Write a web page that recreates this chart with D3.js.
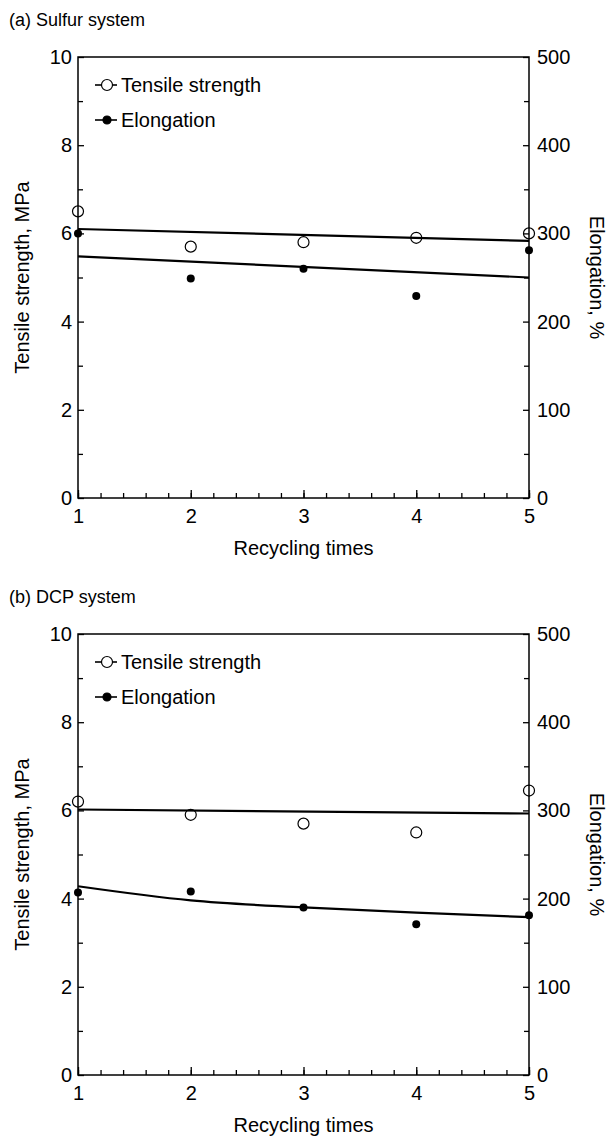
<!DOCTYPE html>
<html>
<head>
<meta charset="utf-8">
<title>Recycling times</title>
<style>
body { margin: 0; background: #fff; }
svg text { font-family: "Liberation Sans", Arial, sans-serif; fill: #000; }
</style>
</head>
<body>
<svg width="608" height="1137"></svg>
<script src="https://cdn.jsdelivr.net/npm/d3@7"></script>
<script>
// values
var cycles = [1, 2, 3, 4, 5];
var fitEnds = [1, 5];

var sulfurTensile = [6.5, 5.7, 5.8, 5.9, 6.0];
var sulfurElong = [300, 249, 260, 229, 281];
var sulfurTensileFit = [6.1, 5.83];
var sulfurElongFit = [274, 250];

var dcpTensile = [6.2, 5.9, 5.7, 5.5, 6.45];
var dcpElong = [207, 208, 190, 171, 181];
var dcpTensileFit = [6.02, 5.93];
var dcpElongFit = [214, 198, 190, 184, 179];

var leftTicks = [0, 2, 4, 6, 8, 10];
var rightTicks = [0, 100, 200, 300, 400, 500];
var legendNames = ["Tensile strength", "Elongation"];

var svg = d3.select("svg");

function panel(opt) {
  var left = 78, right = 529, top = opt.top, bottom = opt.top + 441;

  var x = d3.scaleLinear().domain([1, 5]).range([left, right]);
  var yL = d3.scaleLinear().domain([0, 10]).range([bottom, top]);
  var yR = d3.scaleLinear().domain([0, 500]).range([bottom, top]);

  var g = svg.append("g");

  g.append("text")
      .attr("x", 9)
      .attr("y", top - 31)
      .style("font-size", "18px")
      .text(opt.title);

  // minor ticks
  g.append("g")
      .attr("transform", "translate(0," + bottom + ")")
      .call(d3.axisBottom(x).tickValues(d3.range(1, 5.01, 0.2)).tickSize(-5).tickFormat(""));
  g.append("g")
      .attr("transform", "translate(" + left + ",0)")
      .call(d3.axisLeft(yL).tickValues(d3.range(1, 10, 2)).tickSize(-5).tickFormat(""));
  g.append("g")
      .attr("transform", "translate(" + right + ",0)")
      .call(d3.axisRight(yR).tickValues(d3.range(50, 500, 100)).tickSize(-5).tickFormat(""));

  // major ticks + labels
  g.append("g")
      .attr("transform", "translate(0," + bottom + ")")
      .call(d3.axisBottom(x).tickValues(cycles).tickSize(-8).tickPadding(11).tickFormat(d3.format("d")));
  g.append("g")
      .attr("transform", "translate(" + left + ",0)")
      .call(d3.axisLeft(yL).tickValues(leftTicks).tickSize(-6).tickPadding(6));
  g.append("g")
      .attr("transform", "translate(" + right + ",0)")
      .call(d3.axisRight(yR).tickValues(rightTicks).tickSize(-6).tickPadding(8));

  g.selectAll(".domain").remove();
  g.selectAll(".tick line").attr("stroke", "#000").attr("stroke-width", 1.3);
  g.selectAll(".tick text").style("font-size", "20px").attr("fill", "#000");

  // frame
  g.append("rect")
      .attr("x", left).attr("y", top)
      .attr("width", right - left).attr("height", bottom - top)
      .attr("fill", "none").attr("stroke", "#000").attr("stroke-width", 1.5);

  // axis titles
  g.append("text")
      .attr("x", (left + right) / 2)
      .attr("y", bottom + 57)
      .attr("text-anchor", "middle")
      .style("font-size", "20px")
      .text("Recycling times");
  g.append("text")
      .attr("transform", "translate(29," + (top + bottom) / 2 + ") rotate(-90)")
      .attr("text-anchor", "middle")
      .style("font-size", "20px")
      .text("Tensile strength, MPa");
  g.append("text")
      .attr("transform", "translate(590," + (top + bottom) / 2 + ") rotate(90)")
      .attr("text-anchor", "middle")
      .style("font-size", "20px")
      .text("Elongation, %");

  // fit lines
  var lineL = d3.line().x(function(d, i) { return x(opt.fitX[i]); }).y(function(d) { return yL(d); });
  g.append("path")
      .attr("d", lineL.x(function(d, i) { return x(fitEnds[i]); })(opt.tensileFit))
      .attr("fill", "none").attr("stroke", "#000").attr("stroke-width", 2.2);

  var fx = opt.elongFit.length === 2 ? fitEnds : cycles;
  var lineR = d3.line()
      .x(function(d, i) { return x(fx[i]); })
      .y(function(d) { return yR(d); })
      .curve(d3.curveMonotoneX);
  g.append("path")
      .attr("d", lineR(opt.elongFit))
      .attr("fill", "none").attr("stroke", "#000").attr("stroke-width", 2.2);

  // points
  g.selectAll(".ts").data(opt.tensile).enter().append("circle")
      .attr("cx", function(d, i) { return x(cycles[i]); })
      .attr("cy", function(d) { return yL(d); })
      .attr("r", 5.5)
      .attr("fill", "none").attr("stroke", "#000").attr("stroke-width", 1.2);
  g.selectAll(".el").data(opt.elong).enter().append("circle")
      .attr("cx", function(d, i) { return x(cycles[i]); })
      .attr("cy", function(d) { return yR(d); })
      .attr("r", 4)
      .attr("fill", "#000");

  // legend
  var lg = g.append("g").attr("transform", "translate(" + left + "," + top + ")");
  legendNames.forEach(function(name, i) {
    var yy = 28 + i * 35;
    lg.append("line")
        .attr("x1", 17).attr("x2", 39).attr("y1", yy).attr("y2", yy)
        .attr("stroke", "#000").attr("stroke-width", 1.6);
    lg.append("circle")
        .attr("cx", 29).attr("cy", yy)
        .attr("r", i === 0 ? 5.5 : 4)
        .attr("fill", i === 0 ? "#fff" : "#000")
        .attr("stroke", "#000").attr("stroke-width", 1.2);
    lg.append("text")
        .attr("x", 43).attr("y", yy)
        .attr("dy", "0.36em")
        .style("font-size", "20px")
        .text(name);
  });
}

panel({
  title: "(a) Sulfur system", top: 57,
  tensile: sulfurTensile, elong: sulfurElong,
  tensileFit: sulfurTensileFit, elongFit: sulfurElongFit, fitX: fitEnds
});

panel({
  title: "(b) DCP system", top: 634,
  tensile: dcpTensile, elong: dcpElong,
  tensileFit: dcpTensileFit, elongFit: dcpElongFit, fitX: fitEnds
});
</script>
</body>
</html>
